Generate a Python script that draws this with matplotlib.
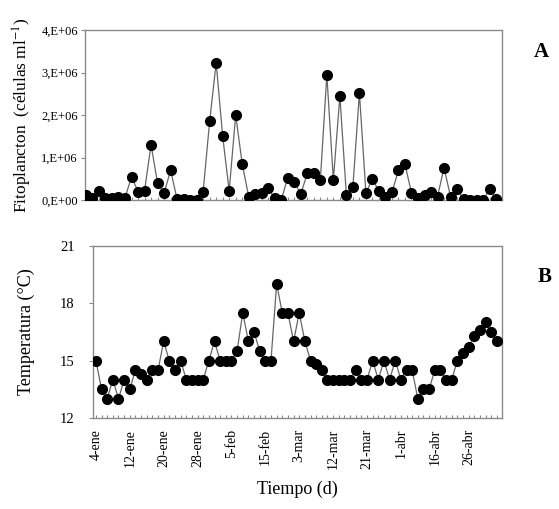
"""
Fitoplancton y temperatura del agua, enero-abril.
"""

import matplotlib
matplotlib.use("Agg")
import matplotlib.pyplot as plt
from matplotlib.ticker import FixedLocator, MultipleLocator
import numpy as np


# Abundancia de fitoplancton (celulas/ml), un valor por muestreo
fito = np.array([0.12, 0.04, 0.22, 0.05, 0.05, 0.08, 0.05, 0.55, 0.20, 0.22,
                 1.30, 0.40, 0.16, 0.70, 0.02, 0.02, 0.00, 0.00, 0.20, 1.85,
                 3.23, 1.50, 0.22, 2.00, 0.85, 0.08, 0.15, 0.17, 0.28, 0.04,
                 0.00, 0.53, 0.43, 0.14, 0.63, 0.63, 0.47, 2.94, 0.47, 2.45,
                 0.12, 0.31, 2.52, 0.17, 0.49, 0.21, 0.08, 0.18, 0.70, 0.84,
                 0.17, 0.04, 0.12, 0.20, 0.08, 0.76, 0.08, 0.25, 0.02, 0.01,
                 0.01, 0.01, 0.25, 0.02]) * 1e6

# Temperatura del agua (grados C)
temp = np.array([15.0, 13.5, 13.0, 14.0, 13.0, 14.0, 13.5, 14.5, 14.3, 14.0,
                 14.5, 14.5, 16.0, 15.0, 14.5, 15.0, 14.0, 14.0, 14.0, 14.0,
                 15.0, 16.0, 15.0, 15.0, 15.0, 15.5, 17.5, 16.0, 16.5, 15.5,
                 15.0, 15.0, 19.0, 17.5, 17.5, 16.0, 17.5, 16.0, 15.0, 14.8,
                 14.5, 14.0, 14.0, 14.0, 14.0, 14.0, 14.5, 14.0, 14.0, 15.0,
                 14.0, 15.0, 14.0, 15.0, 14.0, 14.5, 14.5, 13.0, 13.5, 13.5,
                 14.5, 14.5, 14.0, 14.0, 15.0, 15.4, 15.7, 16.3, 16.6, 17.0,
                 16.5, 16.0])

fechas = ["4-ene", "12-ene", "20-ene", "28-ene", "5-feb", "15-feb",
          "3-mar", "12-mar", "21-mar", "1-abr", "16-abr", "26-abr"]
paso_fechas = 6

fito_ticks = [0, 1e6, 2e6, 3e6, 4e6]
fito_labels = ["0,E+00", "1,E+06", "2,E+06", "3,E+06", "4,E+06"]
temp_ticks = [12, 15, 18, 21]

plt.rcParams['font.family'] = ['Liberation Serif', 'DejaVu Serif']
plt.rcParams['mathtext.fontset'] = 'stix'

GRIS = '#8a8a8a'


def style_axes(ax):
    """Marco gris fino y marcas pequenas"""
    for s in ax.spines.values():
        s.set_color(GRIS)
        s.set_linewidth(1.0)
    ax.tick_params(axis='y', direction='out', length=3, width=0.8,
                   color=GRIS, labelsize=9, pad=2)
    ax.tick_params(axis='x', which='both', direction='in', length=2.5,
                   width=0.8, color=GRIS)


def draw_series(ax, values):
    """Linea con circulos negros"""
    x = np.arange(len(values))
    ax.plot(x, values, '-', color='#666666', lw=0.9, zorder=2)
    ax.plot(x, values, 'o', color='black', ms=7, mec='black', zorder=3)


def main():
    """Dibuja los dos paneles"""
    fig = plt.figure(figsize=(5.59, 5.09), dpi=100)

    # Panel A: fitoplancton
    ax1 = fig.add_axes([0.152, 0.607, 0.746, 0.334])
    draw_series(ax1, fito)
    ax1.set_xlim(-0.15, len(fito) - 0.1)
    ax1.set_ylim(0, 4e6)
    ax1.set_yticks(fito_ticks)
    ax1.set_yticklabels(fito_labels)
    ax1.xaxis.set_major_locator(MultipleLocator(1))
    ax1.set_xticklabels([])
    style_axes(ax1)
    ax1.set_ylabel('Fitoplancton  (células ml$^{-1}$)', fontsize=12.5,
                   labelpad=5)
    fig.text(0.968, 0.897, 'A', fontsize=15, fontweight='bold',
             ha='center', va='center')

    # Panel B: temperatura
    ax2 = fig.add_axes([0.166, 0.179, 0.732, 0.338])
    draw_series(ax2, temp)
    ax2.set_xlim(-0.55, len(temp) - 0.1)
    ax2.set_ylim(12, 21)
    ax2.set_yticks(temp_ticks)
    pos = np.arange(0, paso_fechas * len(fechas), paso_fechas)
    ax2.xaxis.set_major_locator(FixedLocator(pos))
    ax2.xaxis.set_minor_locator(MultipleLocator(1))
    ax2.set_xticklabels(fechas, rotation=90, fontsize=10)
    style_axes(ax2)
    ax2.tick_params(axis='y', labelsize=10.5, pad=10)
    ax2.tick_params(axis='x', pad=8)
    ax2.set_ylabel('Temperatura (°C)', fontsize=13, labelpad=18)
    ax2.set_xlabel('Tiempo (d)', fontsize=13, labelpad=8)
    fig.text(0.975, 0.455, 'B', fontsize=15, fontweight='bold',
             ha='center', va='center')

    fig.savefig('out.png', dpi=100)


if __name__ == "__main__":
    main()
